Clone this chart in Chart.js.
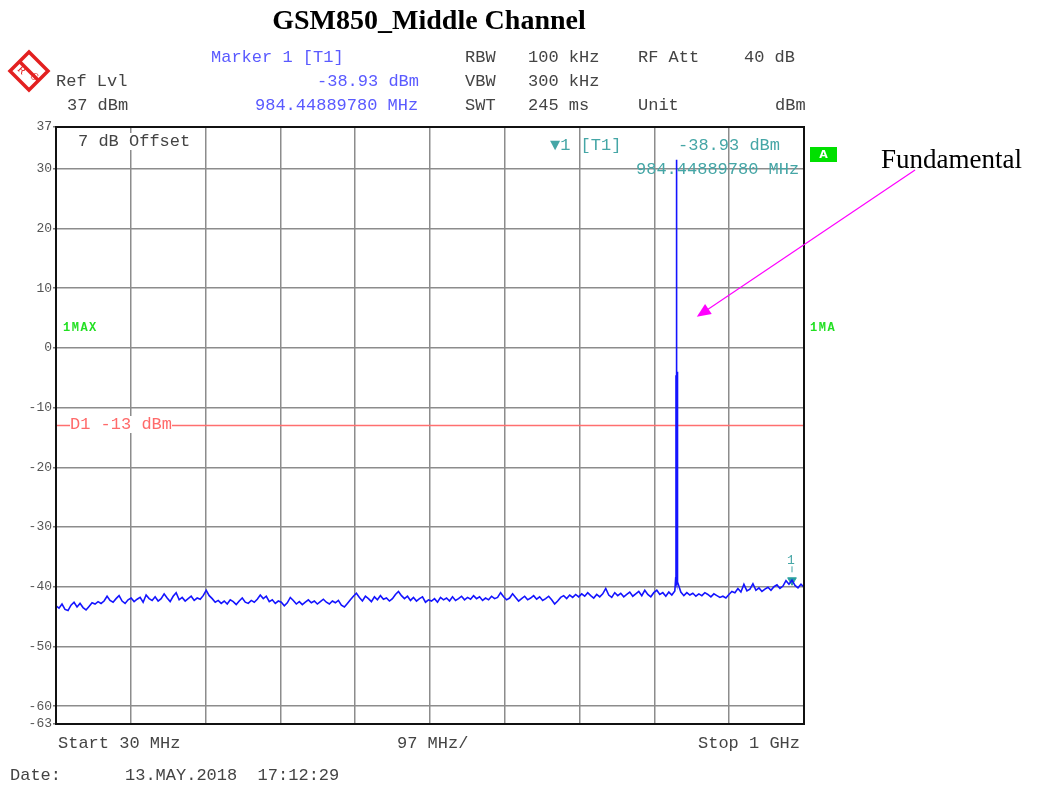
<!DOCTYPE html>
<html>
<head>
  <title>GSM850_Middle Channel</title>
  <script src="https://cdn.jsdelivr.net/npm/chart.js"></script>
  <style>
    body { margin: 0; width: 1042px; height: 787px; overflow: hidden; background: #fff; position: relative; }
    #spec { position: absolute; left: 0; top: 0; }
    .t { position: absolute; font-family: "Liberation Mono", monospace; font-size: 17px; line-height: 17px; color: #444; white-space: pre; }
    .blue { color: #5a5aff; }
    .teal { color: #45a6a6; }
    .grn { color: #22e022; font-weight: bold; font-size: 12px; line-height: 12px; letter-spacing: 1.5px; }
  </style>
</head>
<body>
  <canvas id="spec" width="1042" height="787"></canvas>

  <div style="position:absolute;left:0;width:858px;top:4px;text-align:center;font:bold 28px 'Liberation Serif',serif;color:#000;">GSM850_Middle Channel</div>

  <!-- R&S logo -->
  <svg style="position:absolute;left:7px;top:49px" width="44" height="44" viewBox="0 0 44 44">
    <polygon points="22,3 41,22 22,41 3,22" fill="none" stroke="#e32020" stroke-width="3.5"/>
    <line x1="12" y1="12" x2="32" y2="32" stroke="#e32020" stroke-width="3.5"/>
    <text x="12" y="24" font-family="Liberation Serif" font-size="11" fill="#e32020" transform="rotate(45 15 20)">R</text>
    <text x="25" y="31" font-family="Liberation Serif" font-size="11" fill="#e32020" transform="rotate(45 28 27)">S</text>
  </svg>

  <div class="t blue" style="left:211px;top:49px">Marker 1 [T1]</div>
  <div class="t" style="left:56px;top:73px">Ref Lvl</div>
  <div class="t blue" style="left:317px;top:73px">-38.93 dBm</div>
  <div class="t" style="left:67px;top:97px">37 dBm</div>
  <div class="t blue" style="left:255px;top:97px">984.44889780 MHz</div>

  <div class="t" style="left:465px;top:49px">RBW</div>
  <div class="t" style="left:528px;top:49px">100 kHz</div>
  <div class="t" style="left:638px;top:49px">RF Att</div>
  <div class="t" style="left:744px;top:49px">40 dB</div>
  <div class="t" style="left:465px;top:73px">VBW</div>
  <div class="t" style="left:528px;top:73px">300 kHz</div>
  <div class="t" style="left:465px;top:97px">SWT</div>
  <div class="t" style="left:528px;top:97px">245 ms</div>
  <div class="t" style="left:638px;top:97px">Unit</div>
  <div class="t" style="left:775px;top:97px">dBm</div>

  <div class="t" style="left:78px;top:133px;background:#fff">7 dB Offset</div>
  <div class="t teal" style="left:550px;top:137px">&#9660;1 [T1]</div>
  <div class="t teal" style="left:678px;top:137px">-38.93 dBm</div>
  <div class="t teal" style="left:636px;top:161px">984.44889780 MHz</div>
  <div style="position:absolute;left:810px;top:147px;width:27px;height:15px;background:#00e000;color:#fff;font:bold 11px 'DejaVu Sans',sans-serif;text-align:center;line-height:15px">A</div>

  <div class="t grn" style="left:63px;top:322px">1MAX</div>
  <div class="t grn" style="left:810px;top:322px">1MA</div>

  <div class="t" style="left:70px;top:416px;color:#ff6a6a;background:#fff">D1 -13 dBm</div>
  <div class="t teal" style="left:787px;top:554px;font-size:13px;line-height:13px">1</div>

  <div style="position:absolute;left:881px;top:144px;font:27px 'Liberation Serif',serif;color:#000">Fundamental</div>

  <div class="t" style="left:58px;top:735px">Start 30 MHz</div>
  <div class="t" style="left:397px;top:735px">97 MHz/</div>
  <div class="t" style="left:698px;top:735px">Stop 1 GHz</div>
  <div class="t" style="left:10px;top:767px">Date:</div>
  <div class="t" style="left:125px;top:767px">13.MAY.2018  17:12:29</div>

  <script>
    // sweep settings
    const START_MHZ = 30;
    const STOP_MHZ = 1000;

    // trace level, one row per grid division (dBm)
    const noiseLevel = [
      -43.2,-43.6,-42.9,-43.8,-44.0,-43.1,-42.6,-43.4,-42.8,-43.5,-43.9,-43.3,-42.7,-42.9,-42.5,-42.8,-42.4,-41.6,-42.3,-42.6,-42.0,-41.5,-42.4,-42.8,-42.2,
      -41.9,-42.5,-42.1,-41.8,-42.6,-41.4,-42.0,-42.3,-41.7,-42.4,-42.0,-41.2,-41.9,-42.5,-41.6,-41.0,-42.2,-41.8,-42.4,-42.0,-41.6,-42.3,-41.9,-42.1,-41.5,
      -40.6,-41.5,-42.0,-42.6,-42.3,-42.8,-42.4,-42.9,-42.2,-42.5,-43.0,-42.4,-41.9,-42.6,-42.8,-42.3,-42.6,-42.1,-41.4,-42.0,-41.6,-42.5,-42.2,-42.8,-42.4,
      -42.6,-43.2,-42.7,-41.8,-42.3,-42.9,-42.5,-43.0,-42.6,-42.2,-42.7,-42.4,-42.9,-42.5,-42.1,-42.6,-42.9,-42.4,-42.7,-42.3,-43.1,-43.4,-42.8,-42.2,-41.6,
      -41.1,-41.8,-42.4,-41.6,-42.0,-42.5,-41.7,-42.2,-41.5,-42.1,-41.9,-42.4,-42.0,-41.3,-40.8,-41.5,-42.0,-41.6,-42.3,-41.8,-42.4,-42.0,-41.7,-42.6,-42.2,
      -42.4,-42.0,-42.6,-41.8,-42.2,-41.9,-42.4,-41.7,-42.3,-42.0,-41.6,-42.2,-41.8,-42.1,-41.5,-42.0,-41.7,-42.3,-41.9,-42.2,-41.6,-42.0,-41.8,-41.0,-41.7,
      -42.2,-41.9,-41.2,-41.8,-42.4,-42.0,-41.6,-42.2,-41.9,-41.5,-42.1,-41.7,-42.3,-42.0,-41.6,-42.2,-42.9,-42.4,-41.8,-41.5,-42.0,-41.4,-41.8,-41.3,-41.7,
      -41.2,-41.6,-41.0,-41.5,-41.9,-41.3,-41.7,-41.2,-40.3,-41.4,-41.8,-41.0,-41.5,-41.1,-41.7,-41.3,-40.9,-41.6,-41.2,-40.8,-41.5,-40.6,-41.3,-41.7,-41.0,
      -40.6,-41.3,-41.0,-41.6,-40.9,-41.4,-40.7,-39.2,-40.9,-41.5,-41.0,-41.4,-41.1,-41.6,-41.2,-41.5,-41.0,-41.3,-41.7,-41.2,-41.5,-41.8,-41.6,-41.9,-41.3,
      -40.8,-41.0,-40.3,-40.9,-39.6,-40.7,-40.4,-39.5,-40.6,-40.2,-40.8,-40.4,-40.1,-40.6,-40.0,-39.7,-40.3,-39.9,-39.0,-39.6,-38.9,-39.8,-40.2,-39.6,-40.1
    ];

    // GSM burst around 835 MHz
    const peakFreq  = [833.6, 834.0, 834.2, 834.4, 834.6, 834.9, 835.2, 835.4, 835.6, 835.8, 836.1];
    const peakLevel = [-38.5, -4.6, -39.2, -4.2, -39.5, 31.5, -4.4, -39.0, -4.0, -38.8, -39.0];

    const markerFreq  = [984.44889780];
    const markerLevel = [-38.93];

    const limitLevel = -13;
    const yTicks = [37, 30, 20, 10, 0, -10, -20, -30, -40, -50, -60, -63];
    const xTicks = [30, 127, 224, 321, 418, 515, 612, 709, 806, 903, 1000];

    // arrow for "Fundamental" note, in (MHz, dBm)
    const arrowFrom = [1144, 29.8];
    const arrowTo   = [861, 5.2];

    const step = (STOP_MHZ - START_MHZ) / (noiseLevel.length - 1);
    const trace = noiseLevel.map((v, i) => ({ x: START_MHZ + i * step, y: v }))
      .concat(peakFreq.map((f, i) => ({ x: f, y: peakLevel[i] })))
      .sort((a, b) => a.x - b.x);

    const extras = {
      id: 'extras',
      beforeDatasetsDraw(chart) {
        const { ctx, chartArea: a, scales: { y } } = chart;
        // display line D1
        const yl = y.getPixelForValue(limitLevel);
        ctx.save();
        ctx.strokeStyle = '#ff6f6f';
        ctx.lineWidth = 1.5;
        ctx.beginPath();
        ctx.moveTo(a.left, yl);
        ctx.lineTo(a.right, yl);
        ctx.stroke();
        ctx.restore();
      },
      afterDatasetsDraw(chart) {
        const { ctx, chartArea: a, scales: { x, y } } = chart;
        ctx.save();
        // frame
        ctx.strokeStyle = '#111';
        ctx.lineWidth = 2;
        ctx.strokeRect(a.left, a.top, a.right - a.left, a.bottom - a.top);
        // marker stem
        const mx = x.getPixelForValue(markerFreq[0]);
        const my = y.getPixelForValue(markerLevel[0]);
        ctx.strokeStyle = '#45a6a6';
        ctx.lineWidth = 1;
        ctx.beginPath();
        ctx.moveTo(mx, my - 14);
        ctx.lineTo(mx, my - 8);
        ctx.stroke();
        ctx.restore();
      },
      afterDraw(chart) {
        const { ctx, scales: { x, y } } = chart;
        const x1 = x.getPixelForValue(arrowFrom[0]), y1 = y.getPixelForValue(arrowFrom[1]);
        const x2 = x.getPixelForValue(arrowTo[0]), y2 = y.getPixelForValue(arrowTo[1]);
        const ang = Math.atan2(y2 - y1, x2 - x1);
        ctx.save();
        ctx.strokeStyle = '#ff00ff';
        ctx.fillStyle = '#ff00ff';
        ctx.lineWidth = 1.2;
        ctx.beginPath();
        ctx.moveTo(x1, y1);
        ctx.lineTo(x2 - 10 * Math.cos(ang), y2 - 10 * Math.sin(ang));
        ctx.stroke();
        ctx.beginPath();
        ctx.moveTo(x2, y2);
        ctx.lineTo(x2 - 14 * Math.cos(ang) + 6 * Math.sin(ang), y2 - 14 * Math.sin(ang) - 6 * Math.cos(ang));
        ctx.lineTo(x2 - 14 * Math.cos(ang) - 6 * Math.sin(ang), y2 - 14 * Math.sin(ang) + 6 * Math.cos(ang));
        ctx.closePath();
        ctx.fill();
        ctx.restore();
      }
    };

    new Chart(document.getElementById('spec'), {
      type: 'line',
      data: {
        datasets: [{
          label: 'Trace 1',
          data: trace,
          borderColor: '#1414ff',
          borderWidth: 1.6,
          pointRadius: 0,
          tension: 0,
          fill: false
        }, {
          label: 'Marker 1',
          type: 'scatter',
          data: markerFreq.map((f, i) => ({ x: f, y: markerLevel[i] })),
          pointStyle: 'triangle',
          rotation: 180,
          pointRadius: 5,
          backgroundColor: '#2aa0a0',
          borderColor: '#2aa0a0'
        }]
      },
      options: {
        responsive: false,
        animation: false,
        layout: { padding: { left: 0, right: 238, top: 127, bottom: 63 } },
        plugins: { legend: { display: false }, tooltip: { enabled: false } },
        scales: {
          x: {
            type: 'linear',
            min: START_MHZ,
            max: STOP_MHZ,
            afterBuildTicks: s => { s.ticks = xTicks.map(v => ({ value: v })); },
            afterFit: s => { s.height = 0; },
            ticks: { display: false },
            grid: { color: '#8c8c8c', lineWidth: 1.5, drawTicks: false },
            border: { color: '#111', width: 2 }
          },
          y: {
            min: -63,
            max: 37,
            afterBuildTicks: s => { s.ticks = yTicks.map(v => ({ value: v })); },
            afterFit: s => { s.width = 56; },
            ticks: {
              color: '#555',
              padding: 1,
              font: { family: 'Liberation Mono', size: 13 }
            },
            grid: { color: '#8c8c8c', lineWidth: 1.5, tickLength: 3, tickColor: '#777' },
            border: { color: '#111', width: 2 }
          }
        }
      },
      plugins: [extras]
    });
  </script>
</body>
</html>
